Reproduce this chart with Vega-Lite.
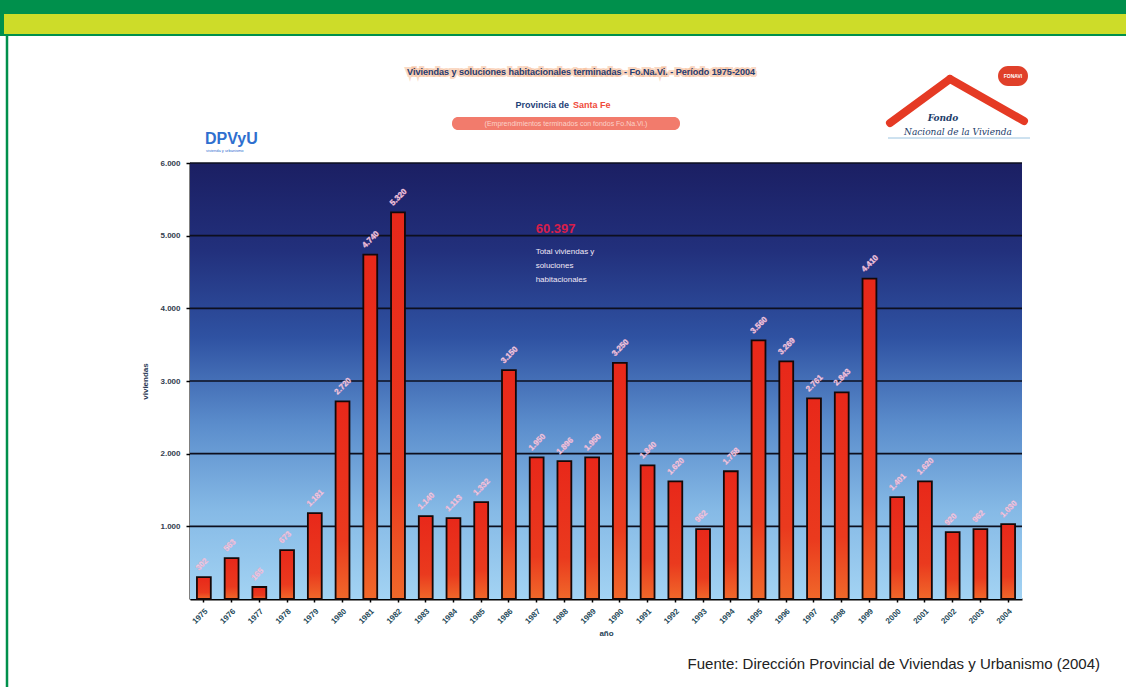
{
  "$schema": "https://vega.github.io/schema/vega-lite/v6.json",
  "autosize": {"type": "none"},
  "width": 832,
  "height": 436,
  "padding": {"left": 190, "top": 163, "right": 104, "bottom": 91},
  "background": "white",
  "config": {
    "view": {"stroke": null},
    "locale": {"number": {"decimal": ",", "thousands": ".", "grouping": [3], "currency": ["$", ""]}},
    "font": "Liberation Sans"
  },
  "datasets": {
    "viviendas": [
      {"anio": 1975, "viviendas": 302},
      {"anio": 1976, "viviendas": 563},
      {"anio": 1977, "viviendas": 165},
      {"anio": 1978, "viviendas": 673},
      {"anio": 1979, "viviendas": 1181},
      {"anio": 1980, "viviendas": 2720},
      {"anio": 1981, "viviendas": 4740},
      {"anio": 1982, "viviendas": 5320},
      {"anio": 1983, "viviendas": 1140},
      {"anio": 1984, "viviendas": 1113},
      {"anio": 1985, "viviendas": 1332},
      {"anio": 1986, "viviendas": 3150},
      {"anio": 1987, "viviendas": 1950},
      {"anio": 1988, "viviendas": 1896},
      {"anio": 1989, "viviendas": 1950},
      {"anio": 1990, "viviendas": 3250},
      {"anio": 1991, "viviendas": 1840},
      {"anio": 1992, "viviendas": 1620},
      {"anio": 1993, "viviendas": 962},
      {"anio": 1994, "viviendas": 1758},
      {"anio": 1995, "viviendas": 3560},
      {"anio": 1996, "viviendas": 3269},
      {"anio": 1997, "viviendas": 2761},
      {"anio": 1998, "viviendas": 2843},
      {"anio": 1999, "viviendas": 4410},
      {"anio": 2000, "viviendas": 1401},
      {"anio": 2001, "viviendas": 1620},
      {"anio": 2002, "viviendas": 920},
      {"anio": 2003, "viviendas": 962},
      {"anio": 2004, "viviendas": 1030}
    ],
    "grilla": [{"v": 1000}, {"v": 2000}, {"v": 3000}, {"v": 4000}, {"v": 5000}, {"v": 6000}],
    "uno": [{}]
  },
  "layer": [
    {
      "data": {"name": "uno"},
      "mark": {"type": "rect", "fill": "#00904c"},
      "encoding": {"x": {"value": -190}, "x2": {"value": 936}, "y": {"value": -163}, "y2": {"value": -127}}
    },
    {
      "data": {"name": "uno"},
      "mark": {"type": "rect", "fill": "#cddc29"},
      "encoding": {"x": {"value": -186}, "x2": {"value": 936}, "y": {"value": -149}, "y2": {"value": -129}}
    },
    {
      "data": {"name": "uno"},
      "mark": {"type": "rule", "stroke": "#00904c", "strokeWidth": 2.5},
      "encoding": {"x": {"value": -183}, "x2": {"value": -183}, "y": {"value": -128}, "y2": {"value": 524}}
    },
    {
      "data": {"name": "uno"},
      "mark": {
        "type": "rect",
        "fill": {
          "gradient": "linear", "x1": 0, "y1": 0, "x2": 0, "y2": 1,
          "stops": [
            {"offset": 0, "color": "#1b1f63"},
            {"offset": 0.2, "color": "#22307c"},
            {"offset": 0.4, "color": "#2f52a2"},
            {"offset": 0.6, "color": "#5b8dcc"},
            {"offset": 0.8, "color": "#86bae6"},
            {"offset": 1, "color": "#a3d3f3"}
          ]
        }
      },
      "encoding": {"x": {"value": 0}, "x2": {"value": 832}, "y": {"value": 0}, "y2": {"value": 436}}
    },
    {
      "data": {"name": "grilla"},
      "mark": {"type": "rule", "stroke": "#0d0f1e", "strokeWidth": 1.6},
      "encoding": {"y": {"field": "v", "type": "quantitative"}}
    },
    {
      "data": {"name": "viviendas"},
      "mark": {
        "type": "bar",
        "stroke": "#140808",
        "strokeWidth": 1.8,
        "fill": {
          "gradient": "linear", "x1": 0, "y1": 0, "x2": 0, "y2": 1,
          "stops": [
            {"offset": 0, "color": "#e8281a"},
            {"offset": 0.7, "color": "#ea3a1e"},
            {"offset": 1, "color": "#f0682a"}
          ]
        }
      },
      "encoding": {
        "x": {
          "field": "anio", "type": "ordinal",
          "scale": {"paddingInner": 0.5, "paddingOuter": 0.25},
          "axis": {
            "title": "año", "titleFontSize": 8, "titleFontWeight": "bold", "titleColor": "#1f3f55", "titlePadding": 4,
            "labelAngle": -45, "labelFontSize": 8, "labelFontWeight": "bold", "labelColor": "#1f4a5a", "labelPadding": 5,
            "domainColor": "#000000", "domainWidth": 2, "tickColor": "#000000", "tickSize": 3, "tickWidth": 1.5
          }
        },
        "y": {
          "field": "viviendas", "type": "quantitative",
          "scale": {"domain": [0, 6000], "nice": false},
          "axis": {
            "values": [1000, 2000, 3000, 4000, 5000, 6000], "format": ",d", "grid": false,
            "title": "viviendas", "titleFontSize": 8, "titleFontWeight": "bold", "titleColor": "#2b3a55", "titlePadding": 10,
            "labelFontSize": 8, "labelFontWeight": "bold", "labelColor": "#333d4e", "labelPadding": 6,
            "domainColor": "#000000", "domainWidth": 2, "tickColor": "#000000", "tickSize": 4, "tickWidth": 1.5
          }
        }
      }
    },
    {
      "data": {"name": "viviendas"},
      "mark": {"type": "text", "angle": 315, "align": "left", "baseline": "middle", "dx": 1, "dy": -10, "fontSize": 8, "fontWeight": "bold", "fill": "#f3e4ef", "stroke": "#e8a0c8", "strokeWidth": 0.4},
      "encoding": {
        "x": {"field": "anio", "type": "ordinal"},
        "y": {"field": "viviendas", "type": "quantitative"},
        "text": {"field": "viviendas", "type": "quantitative", "format": ",d"}
      }
    },
    {
      "data": {"name": "uno"},
      "mark": {"type": "text", "align": "left", "baseline": "alphabetic", "dx": -1, "dy": -3, "fontSize": 13, "fontWeight": "bold", "fill": "#d81e4a"},
      "encoding": {"x": {"datum": 1987, "type": "ordinal"}, "y": {"datum": 5000, "type": "quantitative"}, "text": {"value": "60.397"}}
    },
    {
      "data": {"name": "uno"},
      "mark": {"type": "text", "align": "left", "baseline": "top", "dx": -1, "dy": 12, "fontSize": 8, "lineHeight": 14, "fill": "#f2e8f6"},
      "encoding": {"x": {"datum": 1987, "type": "ordinal"}, "y": {"datum": 5000, "type": "quantitative"}, "text": {"value": ["Total viviendas y", "soluciones", "habitacionales"]}}
    },
    {
      "data": {"name": "uno"},
      "mark": {"type": "text", "align": "center", "baseline": "middle", "fontSize": 9, "fontWeight": "bold", "fill": "#f6b48a", "stroke": "#f6b48a", "strokeWidth": 4, "strokeOpacity": 0.5},
      "encoding": {"x": {"value": 391}, "y": {"value": -91}, "text": {"value": "Viviendas y soluciones habitacionales terminadas - Fo.Na.Vi. - Período 1975-2004"}}
    },
    {
      "data": {"name": "uno"},
      "mark": {"type": "text", "align": "center", "baseline": "middle", "fontSize": 9, "fontWeight": "bold", "fill": "#1f3f78"},
      "encoding": {"x": {"value": 391}, "y": {"value": -91}, "text": {"value": "Viviendas y soluciones habitacionales terminadas - Fo.Na.Vi. - Período 1975-2004"}}
    },
    {
      "data": {"name": "uno"},
      "mark": {"type": "text", "align": "right", "baseline": "middle", "fontSize": 9, "fontWeight": "bold", "fill": "#1f3f78"},
      "encoding": {"x": {"value": 379}, "y": {"value": -58}, "text": {"value": "Provincia de"}}
    },
    {
      "data": {"name": "uno"},
      "mark": {"type": "text", "align": "left", "baseline": "middle", "fontSize": 9, "fontWeight": "bold", "fill": "#f04a3a"},
      "encoding": {"x": {"value": 383}, "y": {"value": -58}, "text": {"value": "Santa Fe"}}
    },
    {
      "data": {"name": "uno"},
      "mark": {"type": "rect", "fill": "#f06452", "cornerRadius": 6, "opacity": 0.85},
      "encoding": {"x": {"value": 262}, "x2": {"value": 490}, "y": {"value": -46}, "y2": {"value": -33}}
    },
    {
      "data": {"name": "uno"},
      "mark": {"type": "text", "align": "center", "baseline": "middle", "fontSize": 7, "fill": "#fbd2c8"},
      "encoding": {"x": {"value": 376}, "y": {"value": -39}, "text": {"value": "(Emprendimientos terminados con fondos Fo.Na.Vi.)"}}
    },
    {
      "data": {"name": "uno"},
      "mark": {"type": "rule", "stroke": "#e53a24", "strokeWidth": 8, "strokeCap": "round"},
      "encoding": {"x": {"value": 700}, "y": {"value": -40}, "x2": {"value": 760}, "y2": {"value": -84}}
    },
    {
      "data": {"name": "uno"},
      "mark": {"type": "rule", "stroke": "#e53a24", "strokeWidth": 8, "strokeCap": "round"},
      "encoding": {"x": {"value": 760}, "y": {"value": -84}, "x2": {"value": 834}, "y2": {"value": -42}}
    },
    {
      "data": {"name": "uno"},
      "mark": {"type": "rect", "fill": "#e0402a", "cornerRadius": 10},
      "encoding": {"x": {"value": 808}, "x2": {"value": 838}, "y": {"value": -97}, "y2": {"value": -77}}
    },
    {
      "data": {"name": "uno"},
      "mark": {"type": "text", "align": "center", "baseline": "middle", "fontSize": 5, "fontWeight": "bold", "fill": "#ffffff"},
      "encoding": {"x": {"value": 823}, "y": {"value": -87}, "text": {"value": "FONAVI"}}
    },
    {
      "data": {"name": "uno"},
      "mark": {"type": "text", "align": "center", "baseline": "middle", "fontSize": 9, "font": "DejaVu Serif", "fontStyle": "italic", "fontWeight": "bold", "fill": "#1d3d6b"},
      "encoding": {"x": {"value": 753}, "y": {"value": -45}, "text": {"value": "Fondo"}}
    },
    {
      "data": {"name": "uno"},
      "mark": {"type": "text", "align": "center", "baseline": "middle", "fontSize": 9, "font": "DejaVu Serif", "fontStyle": "italic", "fill": "#1d3d6b"},
      "encoding": {"x": {"value": 768}, "y": {"value": -31}, "text": {"value": "Nacional de la Vivienda"}}
    },
    {
      "data": {"name": "uno"},
      "mark": {"type": "rule", "stroke": "#9cc4e0", "strokeWidth": 1},
      "encoding": {"x": {"value": 698}, "x2": {"value": 840}, "y": {"value": -25}, "y2": {"value": -25}}
    },
    {
      "data": {"name": "uno"},
      "mark": {"type": "text", "align": "left", "baseline": "middle", "fontSize": 16, "font": "Liberation Sans", "fontWeight": "bold", "fill": "#2f6fcf"},
      "encoding": {"x": {"value": 15}, "y": {"value": -24}, "text": {"value": "DPVyU"}}
    },
    {
      "data": {"name": "uno"},
      "mark": {"type": "text", "align": "left", "baseline": "middle", "fontSize": 4, "fill": "#2f6fcf"},
      "encoding": {"x": {"value": 16}, "y": {"value": -12}, "text": {"value": "vivienda y urbanismo"}}
    },
    {
      "data": {"name": "uno"},
      "mark": {"type": "text", "align": "right", "baseline": "middle", "fontSize": 15, "fill": "#222222"},
      "encoding": {"x": {"value": 910}, "y": {"value": 501}, "text": {"value": "Fuente: Dirección Provincial de Viviendas y Urbanismo (2004)"}}
    }
  ]
}
